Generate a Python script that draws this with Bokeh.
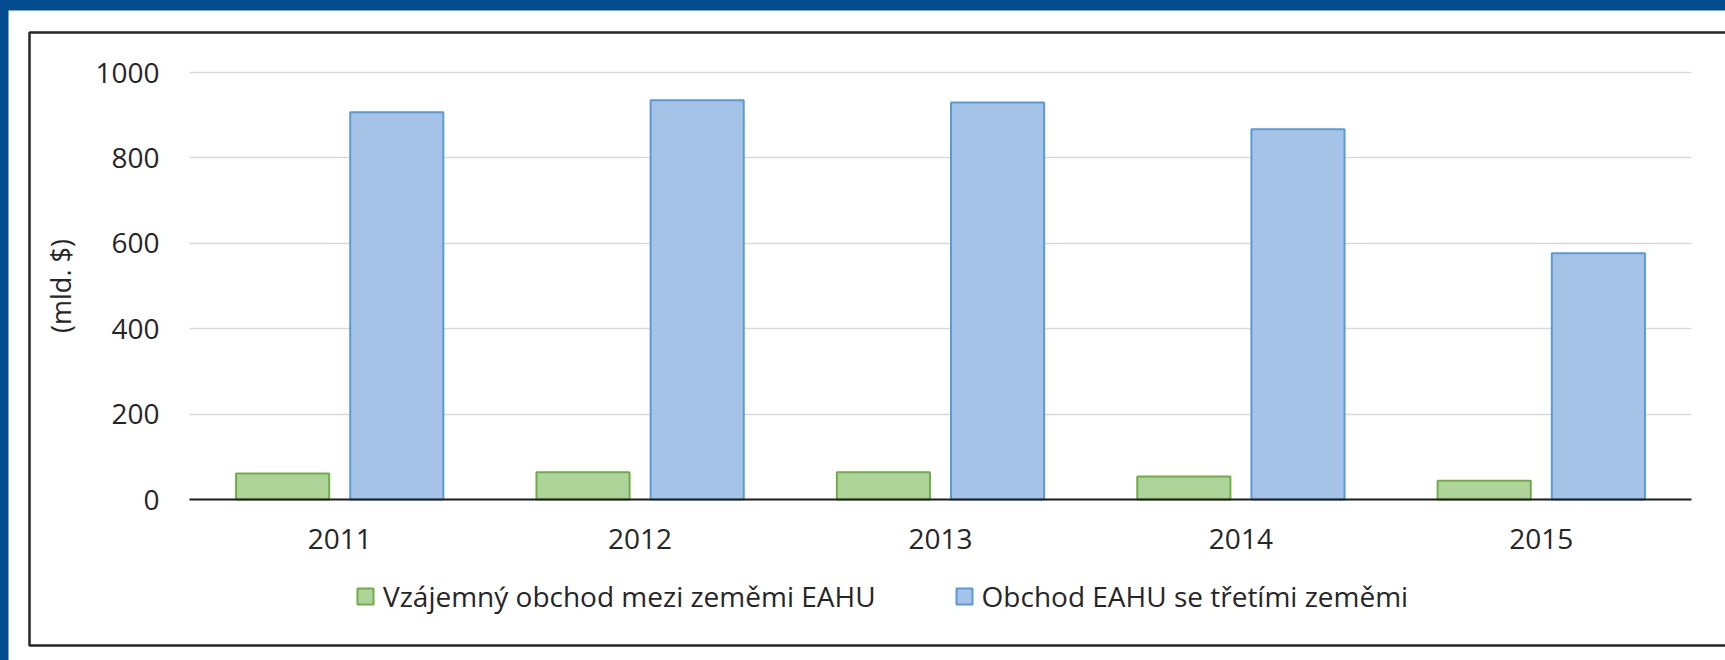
from bokeh.plotting import figure
from bokeh.models import (ColumnDataSource, Range1d, FixedTicker, Legend, LegendItem,
                          BoxAnnotation, Spacer, Grid)
from bokeh.layouts import column, row
from bokeh.transform import dodge
from bokeh.embed import file_html
from bokeh.resources import INLINE

years = ["2011", "2012", "2013", "2014", "2015"]
mutual_trade = [61, 64, 64, 54, 44]              # Vzájemný obchod mezi zeměmi EAHU
third_country_trade = [907, 935, 930, 867, 577]  # Obchod EAHU se třetími zeměmi
y_ticks = [0, 200, 400, 600, 800, 1000]
series_names = ["Vzájemný obchod mezi zeměmi EAHU", "Obchod EAHU se třetími zeměmi"]
y_label = "(mld. $)"

FONT = "Open Sans"
TXT = "#262626"
FS = "28px"

idx = list(range(len(years)))
src = ColumnDataSource(dict(idx=idx, year=years, green=mutual_trade, blue=third_country_trade))

W, H = 1717, 650
# plot area: categories from -0.5 .. 4.5 ; values 0 .. 1000
p = figure(width=W, height=H,
           x_range=Range1d(-1.1025, 4.6132), y_range=Range1d(-377.0, 1145.2),
           output_backend="svg", toolbar_location=None,
           min_border=0, min_border_left=0, min_border_right=0,
           min_border_top=0, min_border_bottom=0)
p.outline_line_color = None
p.background_fill_color = "white"
p.border_fill_color = "white"

g = p.vbar(x=dodge("idx", -0.19), top="green", width=0.31, source=src,
           fill_color="#afd49a", line_color="#70ad47", line_width=2)
b = p.vbar(x=dodge("idx", 0.19), top="blue", width=0.31, source=src,
           fill_color="#a5c3e6", line_color="#5b9bd5", line_width=2)

# y axis
yax = p.yaxis[0]
yax.fixed_location = -0.5
yax.bounds = (y_ticks[0], y_ticks[-1])
yax.ticker = FixedTicker(ticks=y_ticks)
yax.axis_line_color = None
yax.major_tick_line_color = None
yax.minor_tick_line_color = None
yax.major_tick_out = 0
yax.major_tick_in = 0
yax.major_label_standoff = 30
yax.major_label_text_font = FONT
yax.major_label_text_font_size = FS
yax.major_label_text_color = TXT
yax.axis_label = y_label
yax.axis_label_text_font = FONT
yax.axis_label_text_font_size = "27px"
yax.axis_label_text_font_style = "normal"
yax.axis_label_text_color = TXT
yax.axis_label_standoff = 13

# x axis
xax = p.xaxis[0]
xax.fixed_location = 0
xax.bounds = (-0.5, len(years) - 0.5)
xax.ticker = FixedTicker(ticks=idx)
xax.major_label_overrides = {i: y for i, y in zip(idx, years)}
xax.axis_line_color = "#1f1f1f"
xax.axis_line_width = 2
xax.major_tick_line_color = None
xax.minor_tick_line_color = None
xax.major_tick_out = 0
xax.major_tick_in = 0
xax.major_label_standoff = 29
xax.major_label_text_font = FONT
xax.major_label_text_font_size = FS
xax.major_label_text_color = TXT

# grid
p.xgrid.grid_line_color = None
yg = p.ygrid[0]
yg.ticker = FixedTicker(ticks=y_ticks)
yg.grid_line_color = "#d9d9d9"
yg.grid_line_width = 1.5
if "cross_bounds" in Grid.properties():
    yg.cross_bounds = (-0.5, len(years) - 0.5)
else:
    yg.grid_line_color = None
    p.segment(x0=[-0.5] * len(y_ticks), x1=[len(years) - 0.5] * len(y_ticks),
              y0=y_ticks, y1=y_ticks, line_color="#d9d9d9", line_width=1.5, level="underlay")

legend = Legend(items=[LegendItem(label=series_names[0], renderers=[g]),
                       LegendItem(label=series_names[1], renderers=[b])],
                orientation="horizontal", location=(347, 45))
legend.label_text_font = FONT
legend.label_text_font_size = FS
legend.label_text_color = TXT
legend.glyph_width = 20
legend.glyph_height = 20
legend.label_standoff = 8
legend.spacing = 78
legend.padding = 0
legend.margin = 0
legend.border_line_color = None
legend.background_fill_alpha = 0
p.add_layout(legend)

box = BoxAnnotation(left=21, right=W + 20, top=22, bottom=635,
                    left_units="canvas", right_units="canvas",
                    top_units="canvas", bottom_units="canvas",
                    fill_alpha=0, line_color="#262626", line_alpha=1.0,
                    line_width=2.5, level="overlay")
p.add_layout(box)

layout = column(Spacer(width=W + 8, height=10), row(Spacer(width=8, height=H), p, spacing=0), spacing=0)

html = file_html(layout, INLINE)
html = html.replace("</head>",
                    "<style>html, body { margin: 0 !important; padding: 0 !important; "
                    "background-color: #024c8f !important; overflow: hidden; }</style></head>", 1)
open("out.html", "w").write(html)
